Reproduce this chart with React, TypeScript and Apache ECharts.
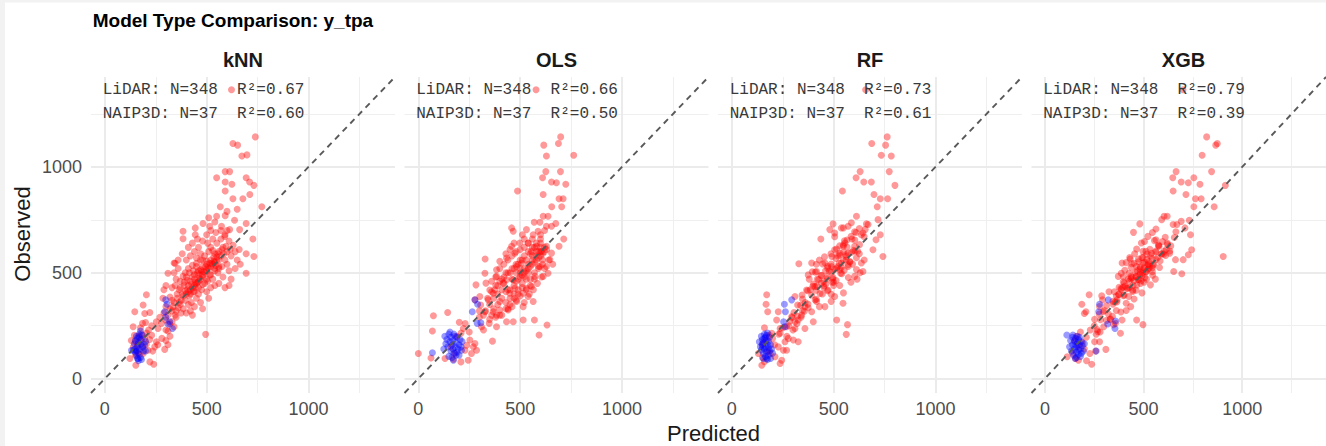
import React, { useEffect, useRef } from "react";
import * as echarts from "echarts";

const models = ["kNN", "OLS", "RF", "XGB"];
const nLidar = 348;
const nNaip = 37;
const r2Lidar = ["0.67", "0.66", "0.73", "0.79"];
const r2Naip = ["0.60", "0.50", "0.61", "0.39"];
const majorTicks = [0, 500, 1000];
const minorTicks = [250, 750, 1250];
const axisMin = -68;
const axisMax = 1425;

// [predicted, observed]
const knnLidar = [
  [147,316],[196,308],[221,312],[188,348],[204,396],[185,261],[139,245],[253,269],[261,237],[278,261],[299,277],[310,225],[319,258],[294,138],[245,150],[253,174],[221,79],[240,68],[152,63],[123,95],[188,119],[212,134],[495,209],[204,163],[165,200],[175,180],[150,175],[140,150],[160,130],[180,210],[195,190],[205,215],[230,205],[220,185],[170,115],[150,110],[185,150],[235,130],[260,160],[280,190],[300,230],[320,200],[340,245],[270,290],[230,250],[215,230],[130,180],[145,205],[160,160],[175,240],[200,265],[300,180],[310,160],[330,270],[350,290],
  [330,320],[345,300],[360,335],[375,310],[340,360],[355,380],[370,350],[385,330],[395,370],[380,400],[400,310],[410,350],[365,420],[345,440],[320,385],[390,440],[405,420],[415,390],[425,360],[420,320],[430,300],[440,340],[450,380],[435,410],[445,430],[455,455],[460,400],[470,360],[480,330],[475,420],[490,450],[500,410],[510,380],[520,430],[505,460],[530,470],[540,440],[515,490],[480,480],[460,490],[440,470],[420,460],[400,480],[395,500],[410,520],[435,510],[450,530],[470,515],[350,470],[330,430],[370,460],[300,440],[290,420],[285,380],[340,500],[360,520],[310,498],[340,546],[384,483],
  [480,560],[500,540],[520,560],[540,520],[555,500],[560,560],[575,530],[590,560],[600,540],[610,510],[620,580],[600,600],[580,620],[560,600],[540,590],[520,620],[505,640],[530,660],[550,640],[570,660],[590,680],[610,650],[630,630],[640,600],[650,560],[660,610],[600,700],[570,700],[545,690],[520,700],[500,680],[480,650],[460,620],[440,600],[420,580],[400,560],[450,570],[470,590],[430,640],[455,660],[410,620],[384,696],[384,661],[444,712],[444,680],[482,733],[515,720],[573,720],[613,704],[589,672],[662,704],[727,660],[732,577],[694,590],[694,498],[640,520],[665,540],[620,470],[580,480],[560,450],[590,430],[610,440],[360,560],[380,590],[345,545],[560,520],[585,590],[535,555],
  [549,767],[591,770],[637,748],[694,733],[739,1142],[629,1111],[652,1103],[673,1052],[698,1057],[591,978],[613,978],[549,949],[694,949],[591,929],[624,918],[711,929],[732,913],[591,886],[629,850],[678,850],[712,870],[771,812],[567,812],[622,1365],[540,740],[600,790],[650,800],[510,760],
  [400,400],[410,410],[420,420],[430,430],[440,440],[450,450],[460,460],[470,470],[480,490],[490,500],[500,510],[510,520],[520,530],[530,540],[540,550],[550,560],[410,440],[425,445],[445,455],[465,475],[485,505],[505,525],[525,545],[545,535],[420,400],[440,410],[460,430],[480,445],[500,470],[520,490],[540,510],[560,530],[395,415],[385,390],[375,370],[390,455],[405,465],[430,480],[455,500],[475,510],[495,530],[515,545],[535,575],[555,590],[575,610],[595,625],[615,610],[570,580],[550,575],[530,605],[510,600],[490,580],[470,560],[450,545],[430,535],[415,500],[440,490],[460,510],[480,530],[500,555],[335,340],[350,320],[365,360],[320,330],[310,300],[355,400],[370,430],[330,370],[300,340],[290,310]
];
const knnNaip = [
  [150,180],[155,200],[160,190],[165,170],[170,210],[175,160],[180,185],[160,150],[150,140],[170,140],[185,150],[165,120],[155,110],[175,100],[160,95],[190,130],[200,175],[145,165],[170,195],[185,205],[195,160],[155,130],[165,85],[180,90],[150,125],[140,135],[175,225],[200,131],[131,134],[299,372],[305,351],[294,316],[299,290],[319,269],[332,237],[310,258],[163,95]
];

const olsLidar = [
  [699,1142],[688,1111],[616,1103],[763,1055],[629,1052],[626,978],[698,978],[610,949],[654,929],[724,918],[678,925],[487,886],[613,870],[691,850],[711,850],[655,812],[704,812],[578,1365],
  [613,767],[637,767],[597,739],[569,739],[675,733],[654,720],[629,720],[714,660],[691,625],[458,712],[466,696],[511,680],[531,704],[564,680],[588,696],[458,625],[474,593],[498,641],[539,641],[556,601],[580,625],[605,601],[629,625],[654,593],[646,562],[629,530],[637,498],[613,483],[597,530],
  [507,546],[482,530],[433,570],[400,554],[384,514],[327,498],[384,483],[417,451],[433,467],[466,467],[474,427],[449,403],[482,364],[515,403],[531,427],[556,435],[572,483],[564,364],[539,388],[515,340],[466,269],[433,269],[441,324],[400,324],[384,300],[400,364],[368,403],[351,419],[343,372],[302,388],[283,443],[332,451],[278,372],[306,348],[327,316],[310,245],[348,261],[368,316],[384,245],[515,277],[570,277],[632,253],[593,206],[364,177],[328,565],
  [74,297],[69,225],[144,312],[201,266],[221,237],[253,182],[270,150],[261,119],[245,87],[209,79],[172,92],[131,95],[62,97],[0,119],[237,158],[286,134],[278,166],[229,134],[190,200],[210,215],[230,260],[250,220],[160,150],[180,120],[300,290],[320,230],
  [420,450],[440,420],[460,470],[480,500],[500,520],[520,480],[540,500],[560,540],[580,560],[600,580],[590,520],[570,470],[550,440],[530,420],[510,450],[490,420],[470,400],[450,380],[430,360],[410,380],[390,350],[370,330],[360,300],[410,300],[440,330],[460,340],[480,370],[500,390],[520,360],[545,400],[565,420],[585,450],[605,480],[620,520],[610,560],[590,600],[570,620],[550,590],[530,560],[510,560],[490,540],[470,520],[450,500],[430,500],[410,470],[390,440],[375,420],[360,460],[380,480],[400,520],[420,540],[440,560],[460,580],[480,600],[500,610],[520,620],[540,640],[560,660],[600,640],[620,600],[640,560],[660,540],[600,660],[520,660],[470,640],[450,610],[430,590],
  [480,460],[500,480],[520,500],[540,520],[560,560],[580,580],[600,600],[620,620],[500,500],[520,520],[540,540],[560,580],[580,600],[600,620],[490,470],[510,490],[530,510],[550,530],[570,550],[590,570],[610,590],[630,610],[470,440],[450,420],[430,410],[410,420],[390,400],[370,380],[350,350],[330,320],[340,380],[360,410],[380,440],[400,460],[420,480],[440,500],[460,520],[480,540],[500,560],[520,580],[540,600],[560,620],[580,640],[600,680],[620,700],[550,470],[570,500],[590,530],[610,540],[530,470],[510,430],[490,400],[470,380],[450,350],[430,330],[400,300],[380,290],[350,280],[320,300],[300,320]
];
const olsNaip = [
  [69,122],[278,372],[291,351],[265,316],[307,264],[289,261],[172,87],[212,134],[130,200],[140,185],[150,210],[155,175],[160,195],[165,160],[170,180],[175,210],[180,150],[185,170],[190,195],[195,140],[200,160],[205,185],[145,150],[135,165],[160,130],[175,120],[185,110],[150,105],[165,100],[190,125],[210,150],[215,175],[155,220],[125,140],[180,200],[200,110],[170,140]
];

const rfLidar = [
  [763,1142],[687,1111],[755,1103],[734,1055],[783,1052],[630,978],[773,978],[610,949],[648,929],[685,929],[801,913],[543,886],[698,870],[729,850],[765,850],[714,812],[612,767],[661,731],[669,728],[718,751],[729,680],[708,656],[693,609],[742,577],[437,660],[657,1365],
  [515,277],[568,255],[562,209],
  [497,731],[481,704],[505,688],[538,712],[571,720],[587,736],[636,680],[555,641],[505,609],[530,593],[571,593],[603,625],[636,546],[644,506],[603,483],[571,530],[538,546],[489,530],[457,546],[416,506],[392,546],[375,490],[329,543],[367,419],[408,435],[440,451],[473,419],[505,388],[546,356],[457,340],[416,364],[392,316],[359,340],[343,300],[400,269],[310,388],[323,348],[347,321],[326,277],[310,237],[359,237],
  [401,447],[452,439],[438,487],[496,471],[470,522],[531,515],[511,568],[580,551],[548,598],[626,590],[410,503],[468,481],[446,542],[515,523],[487,590],[562,560],[530,628],[605,602],[566,655],[380,470],[488,398],[452,460],[530,440],[490,503],[572,478],[527,545],[612,515],[560,585],[650,560],[470,415],[548,405],[415,418],[488,365],[392,395],[430,340],[360,360],[455,575],[520,580],[430,560],[548,625],[505,670],[590,660],[548,712],[650,670],[610,690],[630,500],[585,455],[500,455],[615,470],[540,495],[420,470],[500,440],[460,510],[445,400],[385,420],[415,375],[345,395],[375,335],[415,540],[395,505],
  [171,396],[168,351],[176,316],[228,316],[220,277],[237,237],[237,214],[196,214],[302,182],[326,174],[261,174],[228,150],[253,134],[245,87],[237,71],[147,63],[130,119],[277,190],[269,134],[188,119],[212,103],[310,269],[294,293],[269,245],
  [150,160],[165,180],[175,130],[185,205],[160,240],[200,190],[210,160],[230,210],[250,240],[270,200],[280,250],[300,230],[320,260],[340,290],[150,100],[160,80],
  [452,431],[468,472],[493,455],[506,517],[534,498],[547,561],[571,538],[588,597],[612,571],[627,633],[441,488],[479,508],[488,541],[521,529],[529,584],[561,577],[566,622],[598,606],[604,655],[433,402],[462,447],[497,478],[512,463],[538,526],[552,512],[579,553],[593,541],[618,602],[372,415],[398,436],[417,437],[426,468],[409,371],[356,318],[338,347],[322,296],[305,312],[296,289],[284,271],[347,376],[374,352],[547,631],[553,651],[586,672],[603,694],[626,709],[644,688],[655,705],[514,612],[491,577],[471,531]
];
const rfNaip = [
  [258,351],[263,316],[294,372],[254,269],[261,245],[135,174],[171,95],[145,200],[150,185],[155,170],[160,210],[165,195],[170,180],[175,160],[180,145],[185,130],[150,150],[160,140],[170,125],[180,110],[190,95],[155,120],[165,105],[175,90],[145,135],[150,165],[160,190],[170,205],[180,175],[190,160],[195,140],[200,120],[185,195],[175,215],[140,150],[165,150],[155,95]
];

const xgbLidar = [
  [820,1142],[874,1111],[866,1103],[797,1055],[665,978],[845,978],[648,949],[691,929],[755,949],[727,925],[786,918],[915,913],[650,886],[715,870],[763,850],[792,850],[755,812],[858,812],[904,577],[700,1365],
  [481,731],[449,691],[563,707],[604,767],[592,751],[620,767],[650,728],[669,728],[691,743],[710,712],[738,680],[732,748],[522,672],[563,656],[579,625],[604,601],[633,593],[662,562],[701,562],[727,585],[744,609],[653,506],[694,495],[620,641],[489,641],[497,601],[391,546],[387,498],[427,498],[440,543],[465,530],
  [395,432],[428,431],[436,472],[472,468],[468,511],[512,505],[505,548],[548,535],[541,592],[590,588],[398,481],[441,477],[437,526],[482,519],[474,565],[526,553],[512,601],[562,598],[375,398],[425,388],[418,425],[462,418],[452,462],[503,455],[495,498],[546,489],[530,532],[581,525],[365,362],[412,356],[402,395],[452,376],[445,412],[492,405],[485,450],[535,443],[345,352],[362,390],[352,410],[402,452],[372,483],[385,425],[325,410],[345,365],[362,322],[385,315],[312,345],[322,305],[342,295],[292,372],[302,322],[275,305],[312,275],[332,282],[348,255],[298,245],[282,278],[265,232],[405,512],[452,545],[430,572],[492,572],[465,612],[532,611],[505,648],[575,628],[555,652],[515,470],[545,505],[560,470],[455,590],[432,565],[412,548],[615,610],[610,668],[545,690],[435,340],[412,322],[462,482],[482,492],[498,515],[522,535],
  [224,396],[288,391],[187,351],[200,308],[208,316],[277,340],[252,280],[296,316],[277,174],[309,138],[257,130],[237,68],[211,84],[170,87],[113,103],[228,119],[391,277],[465,277],[497,255],[383,214],[331,280],[358,261],[252,174],[268,222],
  [150,180],[160,200],[170,150],[180,220],[190,170],[200,140],[210,195],[230,230],[250,250],[260,210],[280,220],[140,120],[155,95],
  [447,441],[462,482],[476,468],[484,503],[493,487],[503,524],[514,505],[524,541],[528,522],[543,567],[552,541],[436,482],[458,502],[483,527],[497,546],[517,563],[536,581],[562,603],[445,418],[466,442],[487,463],[506,478],[523,517],[545,524],[563,563],[584,556],[416,428],[428,461],[407,437],[398,392],[387,421],[374,397],[366,372],[355,362],[423,471],[397,457],[376,431],[603,588],[622,633],[638,627],[656,667],[664,694],[596,648],[577,631],[573,573],[594,591],[612,582],[633,603],[517,588],[497,571],[474,552]
];
const xgbNaip = [
  [321,372],[277,351],[273,316],[318,258],[358,272],[355,237],[260,130],[111,206],[142,206],[154,95],[130,180],[140,160],[150,175],[155,190],[160,150],[165,170],[170,185],[175,160],[180,140],[150,140],[160,125],[170,115],[180,105],[145,110],[135,130],[165,200],[175,195],[185,175],[190,155],[195,130],[200,165],[155,160],[140,195],[160,100],[185,120],[125,150],[170,135]
];

const lidarSets = [knnLidar, olsLidar, rfLidar, xgbLidar];
const naipSets = [knnNaip, olsNaip, rfNaip, xgbNaip];

export default function App() {
  const ref = useRef<HTMLDivElement>(null);
  useEffect(() => {
    if (!ref.current) return;
    const chart = echarts.init(ref.current, null, { renderer: "svg" });
    const W = 1326;
    const panelLeft0 = 91;
    const panelStep = 313.5;
    const panelW = 304;
    const panelTop = 77;
    const panelH = 316;
    const grids: any[] = [];
    const xAxes: any[] = [];
    const yAxes: any[] = [];
    const series: any[] = [];
    const graphics: any[] = [];
    const fmt = (v: number) => String(v);
    models.forEach((m, i) => {
      const left = panelLeft0 + i * panelStep;
      grids.push({ left, top: panelTop, width: panelW, height: panelH, containLabel: false });
      xAxes.push({
        type: "value", gridIndex: i, min: axisMin, max: axisMax,
        axisLine: { show: false }, axisTick: { show: false }, splitLine: { show: false },
        axisLabel: { customValues: majorTicks, formatter: fmt, color: "#4d4d4d", fontSize: 18, margin: 7, fontFamily: "Liberation Sans, Arial, sans-serif" },
      });
      yAxes.push({
        type: "value", gridIndex: i, min: axisMin, max: axisMax,
        axisLine: { show: false }, axisTick: { show: false }, splitLine: { show: false },
        axisLabel: { show: i === 0, customValues: majorTicks, formatter: fmt, color: "#4d4d4d", fontSize: 18, margin: 9, fontFamily: "Liberation Sans, Arial, sans-serif" },
      });
      const gridLineData = (vals: number[]) => {
        const out: any[] = [];
        vals.forEach((v) => {
          out.push({ coords: [[v, axisMin], [v, axisMax]] });
          out.push({ coords: [[axisMin, v], [axisMax, v]] });
        });
        return out;
      };
      series.push({
        type: "lines", coordinateSystem: "cartesian2d", xAxisIndex: i, yAxisIndex: i, z: 0, silent: true,
        data: gridLineData(minorTicks), lineStyle: { color: "#efefef", width: 1, opacity: 1 }, symbol: "none",
      });
      series.push({
        type: "lines", coordinateSystem: "cartesian2d", xAxisIndex: i, yAxisIndex: i, z: 0, silent: true,
        data: gridLineData(majorTicks), lineStyle: { color: "#ebebeb", width: 2, opacity: 1 }, symbol: "none",
      });
      series.push({
        type: "scatter", xAxisIndex: i, yAxisIndex: i, z: 2, data: lidarSets[i], symbolSize: 7,
        itemStyle: { color: "rgba(255,0,0,0.5)", borderWidth: 0 },
      });
      series.push({
        type: "scatter", xAxisIndex: i, yAxisIndex: i, z: 3, data: naipSets[i], symbolSize: 7,
        itemStyle: { color: "rgba(0,0,255,0.5)", borderWidth: 0 },
      });
      series.push({
        type: "line", xAxisIndex: i, yAxisIndex: i, z: 4, showSymbol: false, silent: true,
        data: [[axisMin, axisMin], [axisMax, axisMax]],
        lineStyle: { color: "#595959", width: 1.9, type: [6, 5] },
      });
      graphics.push({
        type: "text", x: left + panelW / 2, y: 60,
        style: { text: m, fill: "#1a1a1a", fontSize: 20, fontWeight: "bold", fontFamily: "Liberation Sans, Arial, sans-serif", align: "center", verticalAlign: "middle" },
      });
      graphics.push({
        type: "text", x: left + 11.7, y: 90, z: 10,
        style: { text: `LiDAR: N=${nLidar}  R\u00B2=${r2Lidar[i]}`, fill: "#3a3a3a", fontSize: 16, fontFamily: "Liberation Mono, Courier New, monospace", align: "left", verticalAlign: "middle" },
      });
      graphics.push({
        type: "text", x: left + 11.7, y: 114, z: 10,
        style: { text: `NAIP3D: N=${nNaip}  R\u00B2=${r2Naip[i]}`, fill: "#3a3a3a", fontSize: 16, fontFamily: "Liberation Mono, Courier New, monospace", align: "left", verticalAlign: "middle" },
      });
    });
    graphics.push({ type: "rect", shape: { x: 0, y: 0, width: 5, height: 446 }, style: { fill: "#f2f2f2" }, z: 20 });
    graphics.push({ type: "rect", shape: { x: 0, y: 0, width: W, height: 2.5 }, style: { fill: "#f2f2f2" }, z: 20 });
    graphics.push({
      type: "text", x: 92.7, y: 20,
      style: { text: "Model Type Comparison: y_tpa", fill: "#000000", fontSize: 19, fontWeight: "bold", fontFamily: "Liberation Sans, Arial, sans-serif", align: "left", verticalAlign: "middle" },
    });
    graphics.push({
      type: "text", x: 713.5, y: 433,
      style: { text: "Predicted", fill: "#1a1a1a", fontSize: 22, fontFamily: "Liberation Sans, Arial, sans-serif", align: "center", verticalAlign: "middle" },
    });
    graphics.push({
      type: "text", x: 22.5, y: 234, rotation: Math.PI / 2,
      style: { text: "Observed", fill: "#1a1a1a", fontSize: 22, fontFamily: "Liberation Sans, Arial, sans-serif", align: "center", verticalAlign: "middle" },
    });
    chart.setOption({
      animation: false,
      backgroundColor: "#ffffff",
      grid: grids,
      xAxis: xAxes,
      yAxis: yAxes,
      series,
      graphic: graphics,
    });
    return () => chart.dispose();
  }, []);
  return <div ref={ref} style={{ position: "fixed", left: 0, top: 0, width: 1326, height: 446 }} />;
}
